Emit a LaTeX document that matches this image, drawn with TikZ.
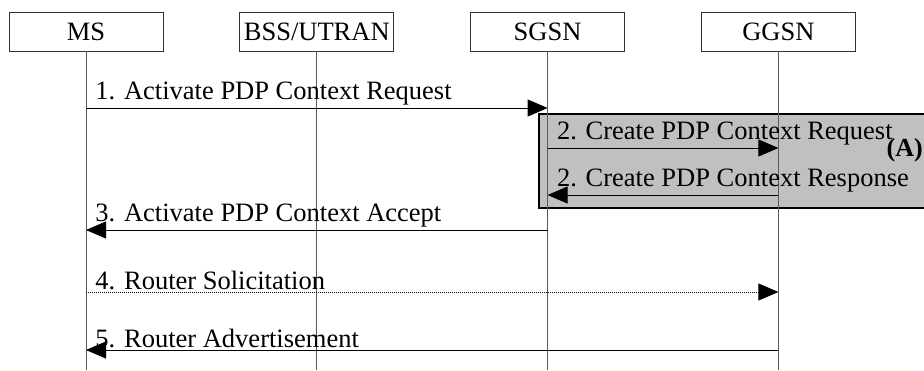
\documentclass[tikz,border=0pt]{standalone}
\usepackage{fontspec}
\setmainfont{Liberation Serif}
\usetikzlibrary{positioning,arrows.meta}
\definecolor{grpgray}{RGB}{192,192,192}
\definecolor{lifegray}{RGB}{90,90,90}
\newcommand{\diagfont}{\fontsize{26.5}{30}\selectfont}
\tikzset{
  ent/.style ={rectangle, draw=black!80, line width=0.8pt, fill=white,
               minimum width=154pt, minimum height=39pt, inner sep=0pt, font=\diagfont},
  grp/.style ={rectangle, draw=black, line width=2pt, fill=grpgray},
  life/.style={draw=lifegray, line width=0.9pt},
  msg/.style ={-{Triangle[length=20pt,width=17pt]}, draw=black, line width=0.8pt},
  msgd/.style={msg, dash pattern=on 1pt off 1pt},
  lbl/.style ={anchor=south west, inner xsep=9pt, inner ysep=2pt, font=\diagfont},
}
\begin{document}
\begin{tikzpicture}[x=1pt, y=-1pt, node distance=76pt]
\useasboundingbox (0,0) rectangle (924,370);
\node[ent] (ms) at (86,31.5) {MS};
\node[ent, right=of ms] (bss) {BSS/UTRAN};
\node[ent, right=of bss] (sgsn) {SGSN};
\node[ent, right=of sgsn] (ggsn) {GGSN};
% message rows
\coordinate (bot) at (0,370);
\foreach \r/\y in {r1/108, r2/148, r3/195, r4/230, r5/292, r6/350}
  \coordinate (\r) at (0,\y);
% procedure (A)
\node[grp, anchor=north west, minimum width=400pt, minimum height=94pt] (grpA) at (538,113) {};
\node[anchor=east, inner sep=0pt, font=\fontsize{26}{30}\bfseries\selectfont] (tagA) at (923,150) {(A)};
\foreach \n in {ms,bss,sgsn,ggsn} \draw[life] (\n) -- (\n |- bot);
\draw[msg] (ms |- r1) -- node[lbl, pos=0] {1. Activate PDP Context Request} (sgsn |- r1);
\draw[msg] (sgsn |- r2) -- node[lbl, pos=0] {2. Create PDP Context Request} (ggsn |- r2);
\draw[msg] (ggsn |- r3) -- node[lbl, pos=1] {2. Create PDP Context Response} (sgsn |- r3);
\draw[msg] (sgsn |- r4) -- node[lbl, pos=1] {3. Activate PDP Context Accept} (ms |- r4);
\draw[msgd] (ms |- r5) -- node[lbl, pos=0] {4. Router Solicitation} (ggsn |- r5);
\draw[msg] (ggsn |- r6) -- node[lbl, pos=1] {5. Router Advertisement} (ms |- r6);
\end{tikzpicture}
\end{document}
